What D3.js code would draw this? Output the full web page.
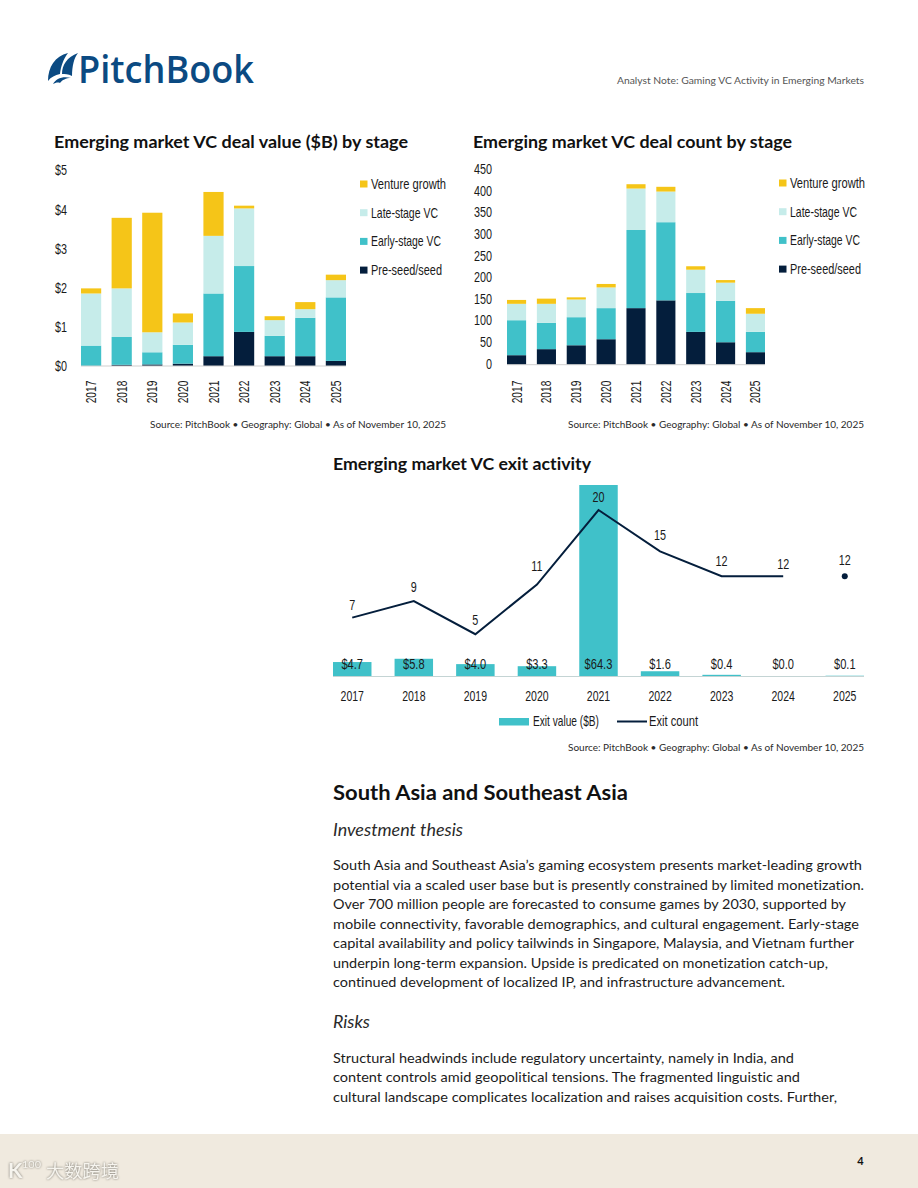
<!DOCTYPE html>
<html><head><meta charset="utf-8">
<style>html,body{margin:0;padding:0;background:#fff}svg{display:block}text{font-variant-ligatures:none}</style>
<script src="https://cdn.jsdelivr.net/npm/d3@7/dist/d3.min.js"></script>
</head><body>
<svg id="page" width="918" height="1188"></svg>
<script>
const years = ["2017","2018","2019","2020","2021","2022","2023","2024","2025"];
const stages = ["Pre-seed/seed","Early-stage VC","Late-stage VC","Venture growth"];
const legendOrder = ["Venture growth","Late-stage VC","Early-stage VC","Pre-seed/seed"];

const valueSeed   = [0.00,0.03,0.04,0.06,0.25,0.87,0.25,0.25,0.13];
const valueEarly  = [0.52,0.71,0.31,0.48,1.60,1.68,0.52,0.98,1.62];
const valueLate   = [1.33,1.24,0.51,0.57,1.47,1.47,0.40,0.22,0.44];
const valueGrowth = [0.13,1.80,3.05,0.23,1.12,0.07,0.10,0.18,0.14];
const valueTicks  = [0,1,2,3,4,5];

const countSeed   = [22,36,45,59,131,149,76,52,29];
const countEarly  = [81,61,65,72,181,181,90,96,47];
const countLate   = [38,44,41,48,96,71,54,42,42];
const countGrowth = [9,12,5,8,10,11,8,6,13];
const countTicks  = [0,50,100,150,200,250,300,350,400,450];

const exitValue = [4.7,5.8,4.0,3.3,64.3,1.6,0.4,0.0,0.1];
const exitCount = [7,9,5,11,20,15,12,12,12];
const exitCountLineEnd = "2024";

const bodyThesis = [
 ["South Asia and Southeast Asia\u2019s gaming ecosystem presents market-leading growth",862],
 ["potential via a scaled user base but is presently constrained by limited monetization.",864],
 ["Over 700 million people are forecasted to consume games by 2030, supported by",846],
 ["mobile connectivity, favorable demographics, and cultural engagement. Early-stage",859],
 ["capital availability and policy tailwinds in Singapore, Malaysia, and Vietnam further",854],
 ["underpin long-term expansion. Upside is predicated on monetization catch-up,",828],
 ["continued development of localized IP, and infrastructure advancement.",785]];
const bodyRisks = [
 ["Structural headwinds include regulatory uncertainty, namely in India, and",794],
 ["content controls amid geopolitical tensions. The fragmented linguistic and",800],
 ["cultural landscape complicates localization and raises acquisition costs. Further,",837]];

const colors = {"Pre-seed/seed":"#041e3c","Early-stage VC":"#40c1c9","Late-stage VC":"#c6ecea","Venture growth":"#f5c518"};
const SANS = "Lato, 'Noto Sans', sans-serif", NARROW = "'Liberation Sans', sans-serif";
const INK = "#1a1a1a";
const svg = d3.select("#page");

// squeeze a selection of text horizontally, since no condensed face is installed
function squeeze(sel,f){
  sel.each(function(){ this.setAttribute("textLength",this.getComputedTextLength()*f); this.setAttribute("lengthAdjust","spacingAndGlyphs"); });
  return sel;
}
function label(t,x,y,o={}){
  const e = svg.append("text").text(t).attr("x",x).attr("y",y)
    .attr("font-family",o.font||SANS).attr("font-size",o.size||13)
    .attr("font-weight",o.weight||400).attr("font-style",o.style||"normal")
    .attr("fill",o.fill||INK).attr("text-anchor",o.anchor||"start");
  if(o.width) e.attr("textLength",o.width).attr("lengthAdjust","spacingAndGlyphs");
  if(o.squeeze) squeeze(e,o.squeeze);
  return e;
}

const legendWidths = {"Venture growth":75,"Late-stage VC":67,"Early-stage VC":70,"Pre-seed/seed":71};
function stacked(cfg){
  const rows = years.map((y,i)=>{const r={year:y};stages.forEach((s,j)=>r[s]=cfg.series[j][i]);return r;});
  const x = d3.scaleBand().domain(years).range(cfg.xr).paddingInner(cfg.pad).paddingOuter(0);
  const y = d3.scaleLinear().domain(cfg.domain).range(cfg.yr);
  const layers = d3.stack().keys(stages)(rows);
  const g = svg.append("g");
  g.selectAll("g.l").data(layers).join("g").attr("class","l").attr("fill",d=>colors[d.key])
    .selectAll("rect").data(d=>d).join("rect")
    .attr("x",d=>x(d.data.year)).attr("width",x.bandwidth())
    .attr("y",d=>y(d[1])).attr("height",d=>y(d[0])-y(d[1]));
  g.append("line").attr("x1",cfg.xr[0]).attr("x2",cfg.xr[1]).attr("y1",cfg.yr[0]).attr("y2",cfg.yr[0]).attr("stroke","#cfcfcf").attr("stroke-width",1);
  const ya = svg.append("g").attr("transform",`translate(${cfg.axisX},${cfg.axisNudge})`)
    .call(d3.axisLeft(y).tickValues(cfg.ticks).tickSize(0).tickPadding(0).tickFormat(cfg.fmt));
  ya.select(".domain").remove();
  squeeze(ya.selectAll("text").attr("font-family",NARROW).attr("font-size",15).attr("fill",INK),.72);
  const xa = svg.append("g").attr("transform",`translate(0,${cfg.yr[0]})`)
    .call(d3.axisBottom(x).tickSize(0).tickPadding(0));
  xa.select(".domain").remove();
  squeeze(xa.selectAll("text").attr("font-family",NARROW).attr("font-size",15).attr("fill",INK)
    .attr("text-anchor","middle").attr("dy",0)
    .attr("transform",`translate(5,${cfg.yearY-cfg.yr[0]}) rotate(-90)`).attr("y",0),.68);
  legendOrder.forEach((s,i)=>{
    const cy = cfg.legY + i*cfg.legStep;
    svg.append("rect").attr("x",cfg.legX).attr("y",cy-3.5).attr("width",7.5).attr("height",7).attr("fill",colors[s]);
    label(s,cfg.legX+11,cy+5,{font:NARROW,size:15,width:legendWidths[s]});
  });
}

// page furniture
svg.append("rect").attr("x",0).attr("y",1134).attr("width",918).attr("height",54).attr("fill","#f0eadf");
label("4",860.5,1165,{size:11,weight:700,fill:"#111",anchor:"middle"});
const halo = e => e.style("filter","drop-shadow(0 0 1px #77746c)");
halo(label("\u5927\u6570\u8de8\u5883",46,1178,{font:"'Noto Sans CJK SC'",size:18,fill:"#f6f4ee",width:73}));
halo(label("K",8,1178,{size:21,weight:700,fill:"#f6f4ee"}));
halo(label("100",22,1168,{size:10,fill:"#f6f4ee",width:19}));

// logo
const logoBlue="#0b4a82";
svg.append("path").attr("fill",logoBlue).attr("d","M48 81 C48 67 55 56 68 53 C63 60 61 66 60 74 C55 75 51 77 48 81Z");
svg.append("path").attr("fill",logoBlue).attr("d","M62 74 C62 65 67 57 78 53 C74 58 72 66 72 76 C68 74 65 74 62 74Z");
svg.append("path").attr("fill",logoBlue).attr("d","M53 84 C56 79 62 76 71 78 C66 78 62 80 60 83 C58 82 55 83 53 84Z");
label("PitchBook",78,83,{size:38,weight:600,fill:logoBlue,width:176,font:"'Open Sans',Lato,sans-serif"});
label("Analyst Note: Gaming VC Activity in Emerging Markets",617,84,{size:9.5,fill:"#555",width:247});

// titles
label("Emerging market VC deal value ($B) by stage",54,148,{size:17,weight:700,fill:"#111",width:354});
label("Emerging market VC deal count by stage",473,148,{size:17,weight:700,fill:"#111",width:319});
label("Emerging market VC exit activity",333,470,{size:17,weight:700,fill:"#111",width:258});
const SRC="Source: PitchBook \u2022 Geography: Global \u2022 As of November 10, 2025";
label(SRC,150,428,{size:9.5,fill:"#2a2a2a",width:296});
label(SRC,568,428,{size:9.5,fill:"#2a2a2a",width:296});
label(SRC,568,751,{size:9.5,fill:"#2a2a2a",width:296});

stacked({series:[valueSeed,valueEarly,valueLate,valueGrowth],xr:[81,346],pad:.34,domain:[0,5],yr:[366,170],ticks:valueTicks,
  fmt:d=>"$"+d,axisX:67,axisNudge:0,yearY:392,legX:360,legY:184,legStep:28.7});
stacked({series:[countSeed,countEarly,countLate,countGrowth],xr:[507,765],pad:.36,domain:[0,450],yr:[364.7,170.4],ticks:countTicks,
  fmt:d=>String(d),axisX:492,axisNudge:-1.5,yearY:392,legX:779,legY:183,legStep:28.7});

// exit chart
const ex = d3.scaleBand().domain(years).range([333,864]).paddingInner(.375).paddingOuter(0);
const evy = d3.scaleLinear().domain([0,64.3]).range([676,485]);
const ecy = d3.scaleLinear().domain([0,20]).range([675.6,510]);
const exitRows = years.map((y,i)=>({year:y,value:exitValue[i],count:exitCount[i]}));
svg.append("g").selectAll("rect").data(exitRows).join("rect")
  .attr("x",d=>ex(d.year)).attr("width",ex.bandwidth())
  .attr("y",d=>evy(d.value)).attr("height",d=>676-evy(d.value)).attr("fill",colors["Early-stage VC"]);
svg.append("line").attr("x1",333).attr("x2",864).attr("y1",676.5).attr("y2",676.5).attr("stroke","#c4d4d4").attr("stroke-width",1.2);
const lineRows = exitRows.slice(0,years.indexOf(exitCountLineEnd)+1);
const cx = y=>ex(y)+ex.bandwidth()/2;
svg.append("path").datum(lineRows).attr("fill","none").attr("stroke",colors["Pre-seed/seed"]).attr("stroke-width",2)
  .attr("d",d3.line().x(d=>cx(d.year)).y(d=>ecy(d.count)));
const last = exitRows[exitRows.length-1];
svg.append("circle").attr("cx",cx(last.year)).attr("cy",ecy(last.count)).attr("r",3).attr("fill",colors["Pre-seed/seed"]);
const countLift = [8,9,9,14,8,11,10,7,11];
exitRows.forEach((d,i)=>{
  label(d.count,cx(d.year),ecy(d.count)-countLift[i],{font:NARROW,size:15,anchor:"middle",squeeze:.72});
  label("$"+d.value.toFixed(1),cx(d.year),669,{font:NARROW,size:15,anchor:"middle",squeeze:.74});
});
const exa = svg.append("g").attr("transform","translate(0,676)").call(d3.axisBottom(ex).tickSize(0).tickPadding(0));
exa.select(".domain").remove();
squeeze(exa.selectAll("text").attr("font-family",NARROW).attr("font-size",15).attr("fill",INK).attr("dy",0).attr("y",25),.7);
svg.append("rect").attr("x",499).attr("y",718).attr("width",30).attr("height",7.5).attr("fill",colors["Early-stage VC"]);
label("Exit value ($B)",533,726,{font:NARROW,size:15,width:66});
svg.append("line").attr("x1",617).attr("x2",647).attr("y1",721.5).attr("y2",721.5).attr("stroke",colors["Pre-seed/seed"]).attr("stroke-width",2);
label("Exit count",649,726,{font:NARROW,size:15,width:49});

// body copy
label("South Asia and Southeast Asia",333,800,{size:21,weight:700,fill:"#111",width:295});
label("Investment thesis",333,836,{size:17,weight:400,style:"italic",fill:"#2a2a2a",width:130});
bodyThesis.forEach(([t,end],i)=>label(t,333,[870,890,909,929,948,968,987][i],{size:13.5,fill:"#1c1c1c",width:end-333}));
label("Risks",333,1028,{size:17,weight:400,style:"italic",fill:"#2a2a2a",width:37});
bodyRisks.forEach(([t,end],i)=>label(t,333,[1063,1082,1102][i],{size:13.5,fill:"#1c1c1c",width:end-333}));
</script>
</body></html>
